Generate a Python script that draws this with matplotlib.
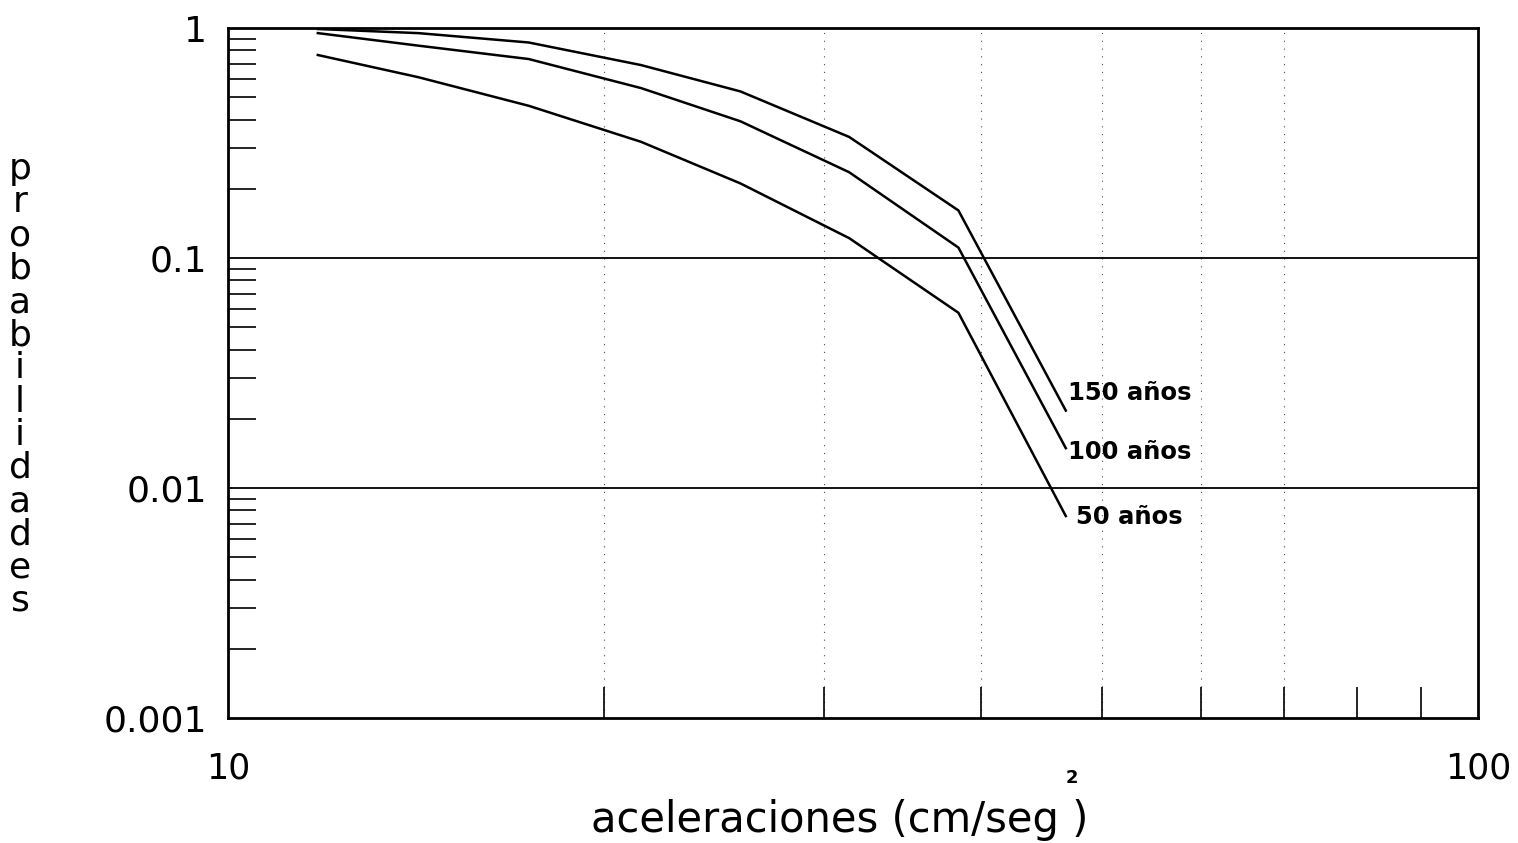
import matplotlib
matplotlib.use("Agg")
import matplotlib.pyplot as plt
from matplotlib.ticker import FixedLocator, NullFormatter

plt.rcParams['font.family'] = ['DejaVu Sans']

# Data
acel = [11.8, 14.2, 17.4, 21.4, 25.7, 31.4, 38.4, 46.8]
p150 = [0.99, 0.95, 0.865, 0.69, 0.53, 0.336, 0.161, 0.0217]
p100 = [0.95, 0.838, 0.733, 0.548, 0.393, 0.236, 0.111, 0.0149]
p50 = [0.763, 0.611, 0.459, 0.320, 0.211, 0.122, 0.0578, 0.00755]
series_labels = ["150 años", "100 años", "50 años"]
label_y = [0.0260, 0.0143, 0.0075]
label_x = [47.0, 47.0, 47.7]

y_ticks = [1, 0.1, 0.01, 0.001]
y_ticklabels = ["1", "0.1", "0.01", "0.001"]
x_ticks = [10, 100]
x_ticklabels = ["10", "100"]
x_grid = [20, 30, 40, 50, 60, 70]
y_hlines = [0.1, 0.01]

fig = plt.figure(figsize=(15.18, 8.43), dpi=100)
ax = fig.add_axes([228/1518, 1-718/843, 1250/1518, 690/843])
ax.set_xscale('log')
ax.set_yscale('log')
ax.set_xlim(10, 100)
ax.set_ylim(0.001, 1)

for s in ax.spines.values():
    s.set_linewidth(2.0)
    s.set_color('black')

for xv in x_grid:
    ax.axvline(xv, color='black', lw=0.8, ls=(0, (1, 6)), alpha=0.7)
for yv in y_hlines:
    ax.axhline(yv, color='black', lw=1.3)

for ys in (p150, p100, p50):
    ax.plot(acel, ys, color='black', lw=1.8)

for lab, ly, xx in zip(series_labels, label_y, label_x):
    ax.text(xx, ly, lab, fontsize=17.5, ha='left', va='center',
            fontweight='bold')

ax.xaxis.set_major_locator(FixedLocator(x_ticks))
ax.xaxis.set_minor_locator(FixedLocator([20, 30, 40, 50, 60, 70, 80, 90]))
ax.xaxis.set_minor_formatter(NullFormatter())
ax.set_xticklabels(x_ticklabels)
ax.yaxis.set_major_locator(FixedLocator(y_ticks))
ax.yaxis.set_minor_locator(FixedLocator(
    [m * 10.0 ** e for e in (-3, -2, -1) for m in range(2, 10)]))
ax.yaxis.set_minor_formatter(NullFormatter())
ax.set_yticklabels(y_ticklabels)

ax.tick_params(axis='y', which='major', direction='in', length=0,
               labelsize=26, pad=15)
ax.tick_params(axis='y', which='minor', direction='in', length=20, width=1.2)
ax.tick_params(axis='x', which='major', direction='in', length=0,
               labelsize=25, pad=24)
ax.tick_params(axis='x', which='minor', direction='in', length=22, width=1.2)

fig.text(840/1518, 1-820/843, "aceleraciones (cm/seg )", fontsize=30,
         ha='center', va='center')
fig.text(1072/1518, 1-778/843, "2", fontsize=13, ha='center', va='center',
         fontweight='bold')

ylab = "\n".join("probabilidades")
fig.text(20/1518, 1-385/843, ylab, fontsize=26, ha='center', va='center',
         linespacing=0.97)

fig.savefig("out.png", dpi=100)
